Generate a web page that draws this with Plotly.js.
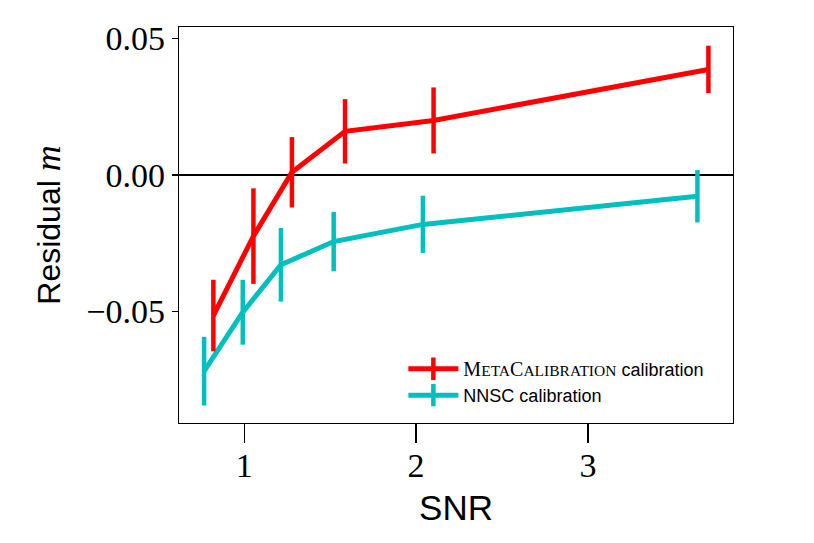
<!DOCTYPE html>
<html>
<head>
<meta charset="utf-8">
<script src="https://cdn.plot.ly/plotly-3.0.1.min.js"></script>
<style>html,body{margin:0;padding:0;background:#fff;}#chart{width:814px;height:543px;}</style>
</head>
<body>
<div id="chart"></div>
<script>
// Data
const metaSNR = [0.821, 1.054, 1.278, 1.587, 2.102, 3.701];
const metaM   = [-0.0515, -0.0224, 0.0010, 0.0160, 0.0200, 0.0387];
const metaErr = [0.0131, 0.0175, 0.0129, 0.0118, 0.0121, 0.0087];

const nnscSNR = [0.767, 0.992, 1.214, 1.521, 2.040, 3.637];
const nnscM   = [-0.0719, -0.0503, -0.0329, -0.0244, -0.0181, -0.0078];
const nnscErr = [0.0126, 0.0119, 0.0135, 0.0109, 0.0105, 0.0096];

const yTicks = [-0.05, 0, 0.05];
const xTicks = [1, 2, 3];

const RED = '#ff0000';
const CYAN = '#00bfbf';

const sc = 'font-size:15.5px';
const metaName = '<span style="font-family:\'Liberation Serif\', serif;font-size:20px">M<span style="' + sc + '">ETA</span>C<span style="' + sc + '">ALIBRATION</span></span> calibration';
const nnscName = 'NNSC calibration';

function dataTrace(x, y, e, color) {
  return {
    x: x, y: y, type: 'scatter', mode: 'lines', showlegend: false,
    line: {color: color, width: 5},
    error_y: {type: 'data', array: e, visible: true, color: color, thickness: 4.5, width: 0}
  };
}
function legendTrace(name, color) {
  return {
    x: [null], y: [null], type: 'scatter', mode: 'lines+markers', name: name,
    line: {color: color, width: 5},
    marker: {symbol: 'line-ns-open', size: 18, color: color, line: {color: color, width: 4.5}}
  };
}

const traces = [
  dataTrace(nnscSNR, nnscM, nnscErr, CYAN),
  dataTrace(metaSNR, metaM, metaErr, RED),
  legendTrace(metaName, RED),
  legendTrace(nnscName, CYAN)
];

const layout = {
  width: 814, height: 543,
  margin: {l: 179, r: 81, t: 27, b: 120, pad: 0},
  paper_bgcolor: '#fff', plot_bgcolor: '#fff',
  showlegend: true,
  legend: {
    x: 0.405, xanchor: 'left', y: 0.183, yanchor: 'top',
    bgcolor: 'rgba(0,0,0,0)', borderwidth: 0,
    font: {family: 'Liberation Sans, sans-serif', size: 18, color: '#000'},
    itemwidth: 50, tracegroupgap: 0
  },
  xaxis: {
    range: [0.621, 3.844],
    tickvals: xTicks, ticktext: xTicks.map(String),
    ticks: 'outside', ticklen: 19, tickwidth: 1.3, tickcolor: '#000',
    showline: true, linecolor: '#000', linewidth: 1.3, mirror: true,
    showgrid: false, zeroline: false,
    ticklabelstandoff: -7,
    tickfont: {family: 'Liberation Serif, serif', size: 34, color: '#000'},
    title: {text: 'SNR', font: {family: 'Liberation Sans, sans-serif', size: 35, color: '#000'}, standoff: 12}
  },
  yaxis: {
    range: [-0.0909, 0.05425],
    tickvals: yTicks, ticktext: ['\u22120.05', '0.00', '0.05'],
    ticks: 'outside', ticklen: 6, tickwidth: 1.3, tickcolor: '#000',
    showline: true, linecolor: '#000', linewidth: 1.3, mirror: true,
    showgrid: false,
    zeroline: true, zerolinecolor: '#000', zerolinewidth: 1.5,
    tickfont: {family: 'Liberation Serif, serif', size: 34, color: '#000'},
    title: {text: 'Residual <span style="font-family:\'Liberation Serif\', serif;font-size:36px"><i>m</i></span>', font: {family: 'Liberation Sans, sans-serif', size: 32, color: '#000'}, standoff: 16}
  }
};

Plotly.newPlot('chart', traces, layout, {staticPlot: true, displayModeBar: false});
</script>
</body>
</html>
